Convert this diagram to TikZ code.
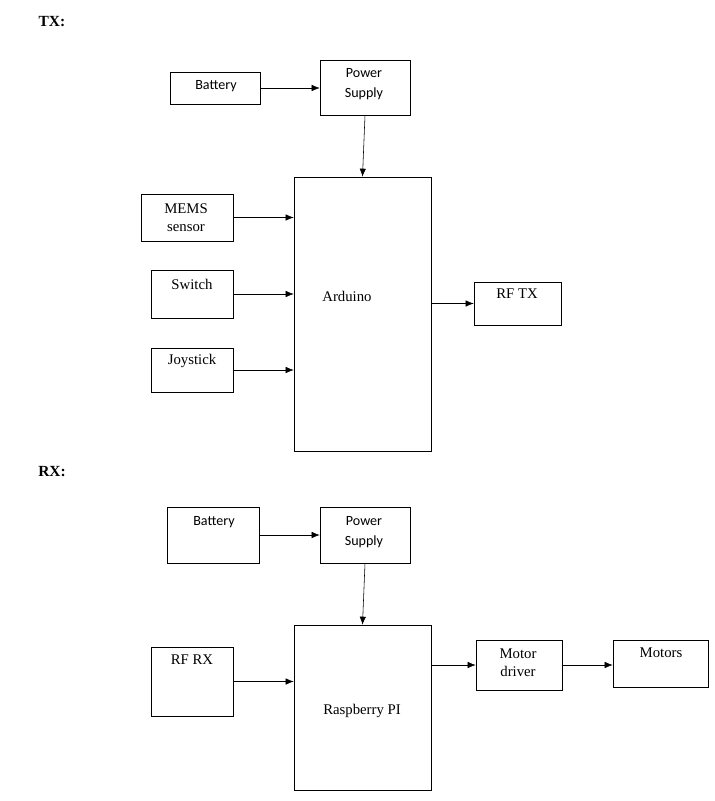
\documentclass[tikz,border=0pt]{standalone}
\usepackage{fontspec}
\setmainfont{Liberation Serif}
\newfontfamily\boxsans{Carlito}
\usetikzlibrary{positioning,arrows.meta,calc}

\begin{document}
\begin{tikzpicture}[x=0.025cm,y=-0.025cm,
  every node/.style={inner sep=0pt},
  blk/.style={draw,thin,rectangle},
  sans/.style={font=\boxsans\fontsize{10}{12}\selectfont,align=center},
  serif/.style={font=\fontsize{10.5}{13}\selectfont,align=center},
  arr/.style={thin,-{Latex[length=2mm,width=1.6mm]}}]

\useasboundingbox (0,0) rectangle (715,801);

% ===================== TX =====================
\node[font=\bfseries\fontsize{11}{13}\selectfont] (txlbl) at (52,22) {TX:};

\node[blk,minimum width=2.25cm,minimum height=0.8cm]   (batA) at (215,88) {};
\node[blk,minimum width=2.25cm,minimum height=1.375cm] (psA)  at (365,87.5) {};
\node[blk,minimum width=3.425cm,minimum height=6.85cm] (ard)  at (362.5,314) {};
\node[blk,minimum width=2.3cm,minimum height=1.175cm]  (mems) at (187,217.5) {};
\node[blk,minimum width=2.05cm,minimum height=1.2cm]   (sw)   at (192,294) {};
\node[blk,minimum width=2.05cm,minimum height=1.1cm]   (joy)  at (192,370) {};
\node[blk,minimum width=2.175cm,minimum height=1.075cm] (rftx) at (517.5,303.5) {};

\node[sans]  (batAt) at (216,86) {Battery};
\node[sans]  (psAt)  at (364,84) {Power\\[2pt]Supply};
\node[serif] (ardt)  at (347,296) {Arduino};
\node[serif] (memst) at (186,218) {MEMS\\sensor};
\node[serif] (swt)   at (192,284) {Switch};
\node[serif] (joyt)  at (192,361) {Joystick};
\node[serif] (rftxt) at (517,294) {RF TX};

\draw[arr] (batA.east) -- (batA.east -| psA.west);
\draw[arr] (psA.south) -- (ard.north);
\draw[arr] (mems.east) -- (mems.east -| ard.west);
\draw[arr] (sw.east) -- (sw.east -| ard.west);
\draw[arr] (joy.east) -- (joy.east -| ard.west);
\draw[arr] (ard.east |- rftx.west) -- (rftx.west);

% ===================== RX =====================
\node[font=\bfseries\fontsize{11}{13}\selectfont] (rxlbl) at (52,472) {RX:};

\node[blk,minimum width=2.3cm,minimum height=1.4cm]    (batB) at (213,535) {};
\node[blk,minimum width=2.25cm,minimum height=1.4cm]   (psB)  at (365,535) {};
\node[blk,minimum width=3.425cm,minimum height=4.125cm] (rpi) at (362.5,707.5) {};
\node[blk,minimum width=2.05cm,minimum height=1.725cm] (rfrx) at (192,681.5) {};
\node[blk,minimum width=2.15cm,minimum height=1.25cm]  (md)   at (519,665) {};
\node[blk,minimum width=2.375cm,minimum height=1.175cm] (mot) at (660.5,663.5) {};

\node[sans]  (batBt) at (214,522) {Battery};
\node[sans]  (psBt)  at (364,532) {Power\\[2pt]Supply};
\node[serif] (rpit)  at (362,711) {Raspberry PI};
\node[serif] (rfrxt) at (192,660) {RF RX};
\node[serif] (mdt)   at (518,663) {Motor\\driver};
\node[serif] (mott)  at (661,653) {Motors};

\draw[arr] (batB.east) -- (batB.east -| psB.west);
\draw[arr] (psB.south) -- (rpi.north);
\draw[arr] (rfrx.east) -- (rfrx.east -| rpi.west);
\draw[arr] (rpi.east |- md.west) -- (md.west);
\draw[arr] (md.east) -- (md.east -| mot.west);

\end{tikzpicture}
\end{document}
